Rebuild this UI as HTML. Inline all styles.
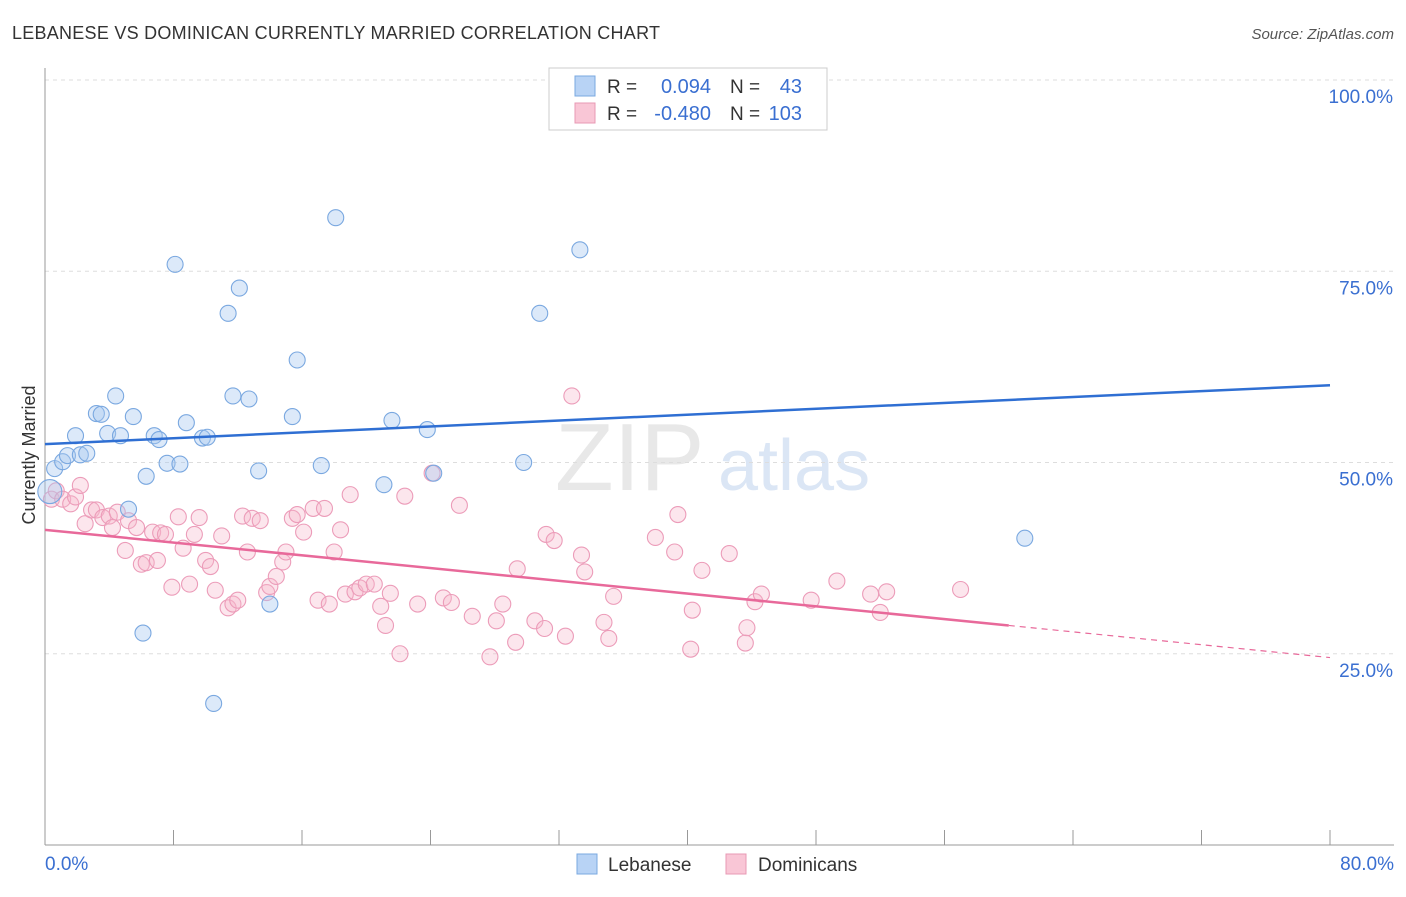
<!DOCTYPE html>
<html><head><meta charset="utf-8"><style>
body{margin:0;background:#fff;font-family:"Liberation Sans",sans-serif;}
svg text{font-family:"Liberation Sans",sans-serif;}
</style></head><body>
<svg id="chart" width="1406" height="892">
<text x="12" y="39" font-size="18" fill="#333" textLength="648">LEBANESE VS DOMINICAN CURRENTLY MARRIED CORRELATION CHART</text>
<text x="1394" y="39" font-size="15" fill="#555" font-style="italic" text-anchor="end">Source: ZipAtlas.com</text>
<text x="35" y="455" font-size="18" fill="#333" text-anchor="middle" transform="rotate(-90 35 455)">Currently Married</text>
<text x="555" y="490" font-size="96" fill="#e8e8e8" font-family="Liberation Serif">ZIP</text>
<text x="718" y="490" font-size="72" fill="#dbe6f5">atlas</text>
<g id="grid"></g><g id="marks"></g>
<g>
<rect x="549" y="68" width="278" height="62" fill="#fff" stroke="#ccc"/>
<rect x="575" y="76" width="20" height="20" fill="#b8d3f5" stroke="#7aa8e0"/>
<rect x="575" y="103" width="20" height="20" fill="#f9c6d6" stroke="#e899b4"/>
<text x="607" y="93" font-size="19" fill="#333">R =</text>
<text x="711" y="93" font-size="20" fill="#3a6fd1" text-anchor="end">0.094</text>
<text x="730" y="93" font-size="19" fill="#333">N =</text>
<text x="802" y="93" font-size="20" fill="#3a6fd1" text-anchor="end">43</text>
<text x="607" y="120" font-size="19" fill="#333">R =</text>
<text x="711" y="120" font-size="20" fill="#3a6fd1" text-anchor="end">-0.480</text>
<text x="730" y="120" font-size="19" fill="#333">N =</text>
<text x="802" y="120" font-size="20" fill="#3a6fd1" text-anchor="end">103</text>
</g>
<g>
<rect x="577" y="854" width="20" height="20" fill="#b8d3f5" stroke="#7aa8e0"/>
<text x="608" y="871" font-size="19" fill="#333">Lebanese</text>
<rect x="726" y="854" width="20" height="20" fill="#f9c6d6" stroke="#e899b4"/>
<text x="758" y="871" font-size="19" fill="#333">Dominicans</text>
</g>
</svg>
<script>
const yTicks=[25,50,75,100];
const yTickLabels=["25.0%","50.0%","75.0%","100.0%"];
const xTickLabels=["0.0%","80.0%"];
const lebX=[0.6,1.1,1.4,1.9,2.2,2.6,3.2,3.5,3.9,4.4,4.7,5.2,5.5,6.1,6.3,6.8,7.1,7.6,8.1,8.4,8.8,9.8,10.1,10.5,11.4,11.7,12.1,12.7,13.3,14.0,15.4,15.7,17.2,18.1,21.1,21.6,23.8,24.2,29.8,30.8,33.3,61.0,0.3];
const lebY=[49.2,50.1,50.9,53.5,51.0,51.2,56.4,56.3,53.8,58.7,53.5,43.9,56.0,27.7,48.2,53.5,53.0,49.9,75.9,49.8,55.2,53.2,53.3,18.5,69.5,58.7,72.8,58.3,48.9,31.5,56.0,63.4,49.6,82.0,47.1,55.5,54.3,48.6,50.0,69.5,77.8,40.1,46.2];
const domX=[0.4,0.7,1.1,1.6,1.9,2.2,2.5,2.9,3.2,3.6,4.0,4.2,4.5,5.0,5.2,5.7,6.0,6.3,6.7,7.0,7.2,7.5,7.9,8.3,8.6,9.0,9.3,9.6,10.0,10.3,10.6,11.0,11.4,11.7,12.0,12.3,12.6,12.9,13.4,13.8,14.0,14.4,14.8,15.0,15.4,15.7,16.1,16.7,17.0,17.4,17.7,18.0,18.4,18.7,19.0,19.3,19.6,20.0,20.5,20.9,21.2,21.5,22.1,22.4,23.2,24.1,24.8,25.3,25.8,26.6,27.7,28.1,28.5,29.3,29.4,30.5,31.1,31.2,31.7,32.4,32.8,33.4,33.6,34.8,35.1,35.4,38.0,39.2,39.4,40.2,40.3,40.9,42.6,43.6,43.7,44.2,44.6,47.7,49.3,51.4,52.0,52.4,57.0];
const domY=[45.2,46.3,45.2,44.6,45.5,47.0,42.0,43.8,43.8,42.8,43.0,41.5,43.5,38.5,42.4,41.5,36.7,36.9,40.9,37.2,40.8,40.6,33.7,42.9,38.8,34.1,40.6,42.8,37.2,36.4,33.3,40.4,31.0,31.5,32.0,43.0,38.3,42.7,42.4,33.0,33.8,35.1,37.0,38.3,42.7,43.2,40.9,44.0,32.0,44.0,31.5,38.3,41.2,32.8,45.8,33.1,33.6,34.1,34.1,31.2,28.7,32.9,25.0,45.6,31.5,48.6,32.3,31.7,44.4,29.9,24.6,29.3,31.5,26.5,36.1,29.3,28.3,40.6,39.8,27.3,58.7,37.9,35.7,29.1,27.0,32.5,40.2,38.3,43.2,25.6,30.7,35.9,38.1,26.4,28.4,31.8,32.8,32.0,34.5,32.8,30.4,33.1,33.4];
const lebLine=[52.4,60.1], domLine=[41.2,28.7,24.5];
const svg=document.getElementById('chart'),grid=document.getElementById('grid'),marks=document.getElementById('marks');
const NS='http://www.w3.org/2000/svg';
const X=v=>45+v/80*1285, Y=v=>845-v/100*765;
function mk(t,a,p){const e=document.createElementNS(NS,t);for(const k in a)e.setAttribute(k,a[k]);(p||svg).appendChild(e);return e;}
yTicks.forEach((t,i)=>{
 const l=mk('line',{x1:45,x2:1394,y1:Y(t),y2:Y(t),stroke:'#ddd','stroke-dasharray':'4,4'},grid);
 
 
 const tx=mk('text',{x:1393,y:Y(t)+23,'font-size':19,fill:'#3a6fd1','text-anchor':'end'},grid);tx.textContent=yTickLabels[i];
 
 
});
const ax=mk('line',{x1:45,x2:45,y1:68,y2:845,stroke:'#999'},grid);


const bx=mk('line',{x1:45,x2:1394,y1:845,y2:845,stroke:'#999'},grid);


for(let i=0;i<=10;i++){const t=mk('line',{x1:X(i*8),x2:X(i*8),y1:830,y2:845,stroke:'#999'},grid);
 
 }
[[0,'start',45],[80,'end',1394]].forEach((d,i)=>{const t=mk('text',{x:d[2],y:870,'font-size':19,fill:'#3a6fd1','text-anchor':d[1]},grid);t.textContent=xTickLabels[i];
 
 });
domX.forEach((x,i)=>{const c=mk('circle',{cx:X(x),cy:Y(domY[i]),r:8,fill:'rgba(247,182,204,0.35)',stroke:'#ec9cb9','stroke-width':1.1},marks);
 
 });
lebX.forEach((x,i)=>{const c=mk('circle',{cx:X(x),cy:Y(lebY[i]),r:i==lebX.length-1?12:8,fill:'rgba(167,199,240,0.4)',stroke:'#7aa8e0','stroke-width':1.1},marks);
 
 });
const bl=mk('line',{x1:X(0),y1:Y(lebLine[0]),x2:X(80),y2:Y(lebLine[1]),stroke:'#2f6fd3','stroke-width':2.5},marks);


const pl=mk('line',{x1:X(0),y1:Y(domLine[0]),x2:X(60),y2:Y(domLine[1]),stroke:'#e8699a','stroke-width':2.5},marks);


const pd=mk('line',{x1:X(60),y1:Y(domLine[1]),x2:X(80),y2:Y(domLine[2]),stroke:'#e8699a','stroke-width':1.2,'stroke-dasharray':'6,5'},marks);


</script>
</body></html>
